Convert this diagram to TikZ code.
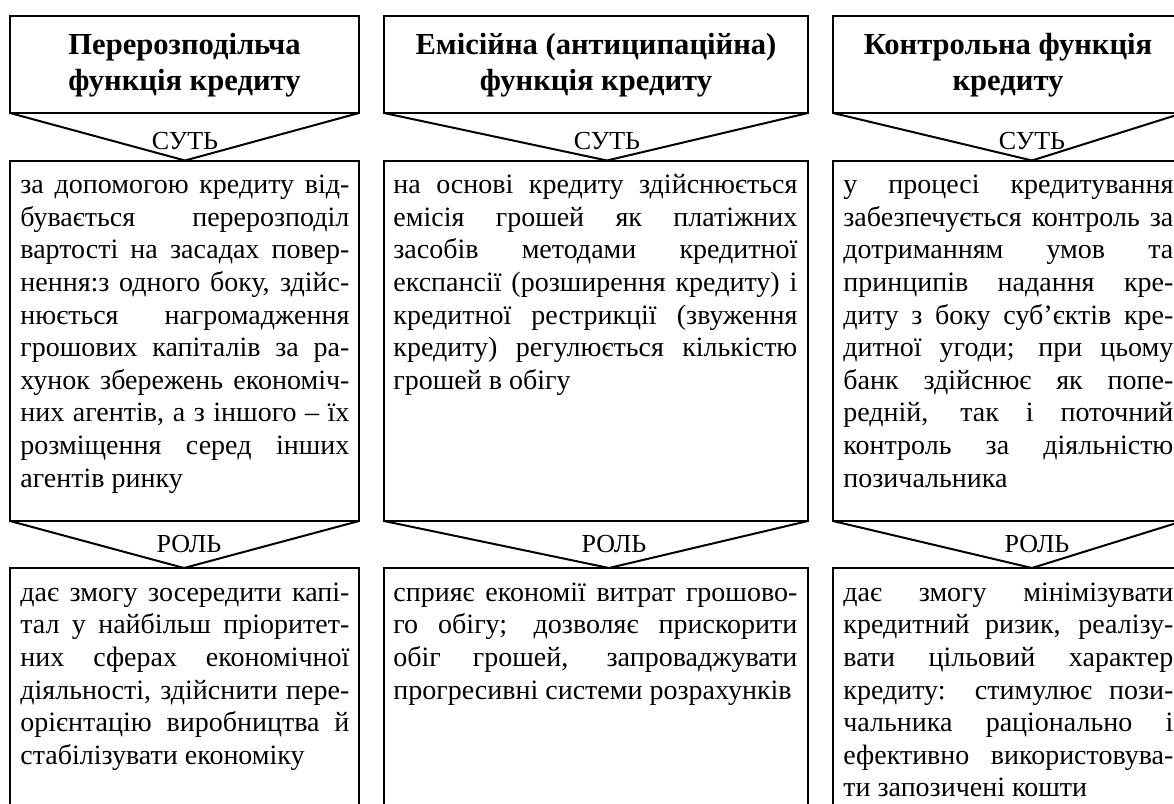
\documentclass[tikz,border=0pt]{standalone}
\usepackage{fontspec}
\setmainfont{Liberation Serif}
\usepackage{tikz}
\usetikzlibrary{positioning,fit,calc}
\tikzset{
  framebox/.style={draw, line width=1pt, inner sep=0pt, outer sep=0pt},
  titletext/.style={align=center, inner sep=0pt,
    font=\fontsize{15.3}{18}\selectfont\bfseries},
  bodytext/.style={anchor=north west, inner sep=0pt, align=justify,
    font=\fontsize{14}{16.3}\selectfont},
  tagtext/.style={anchor=base, inner sep=0pt,
    font=\fontsize{13}{15}\selectfont},
  chev/.style={line width=1pt, line join=miter},
}

\begin{document}
\begin{tikzpicture}[x=0.5pt, y=-0.5pt]
  \useasboundingbox (0,0) rectangle (1174,804);
  \clip (0,0) rectangle (1174,804);

  % Column 1
  \node[framebox, fit={(10,16) (359,113)}] (t1) {};
  \node[titletext] (t1txt) at ([yshift=-0.5pt]t1.center)
    {Перерозподільча\\функція кредиту};
  \node[framebox, fit={(10,160.5) (359,521)}] (s1) {};
  \node[framebox, fit={(10,568) (359,900)}] (r1) {};
  \node[bodytext, text width=164.5pt] (s1txt)
    at ([xshift=5pt, yshift=-5pt]s1.north west)
    {\strut за допомогою кредиту від-\linebreak
     бувається перерозподіл\linebreak
     вартості на засадах повер-\linebreak
     нення:з одного боку, здійс-\linebreak
     нюється нагромадження\linebreak
     грошових капіталів за ра-\linebreak
     хунок збережень економіч-\linebreak
     них агентів, а з іншого – їх\linebreak
     розміщення серед інших\linebreak
     агентів ринку};
  \node[bodytext, text width=164.5pt] (r1txt)
    at ([xshift=5pt, yshift=-5pt]r1.north west)
    {\strut дає змогу зосередити капі-\linebreak
     тал у найбільш пріоритет-\linebreak
     них сферах економічної\linebreak
     діяльності, здійснити пере-\linebreak
     орієнтацію виробництва й\linebreak
     стабілізувати економіку};

  % Column 2
  \node[framebox, fit={(384,16) (808,113)}] (t2) {};
  \node[titletext] (t2txt) at ([yshift=-0.5pt]t2.center)
    {Емісійна (антиципаційна)\\функція кредиту};
  \node[framebox, fit={(384,160.5) (808,521)}] (s2) {};
  \node[framebox, fit={(384,568) (808,900)}] (r2) {};
  \node[bodytext, text width=202pt] (s2txt)
    at ([xshift=4.5pt, yshift=-5pt]s2.north west)
    {\strut на основі кредиту здійснюється\linebreak
     емісія грошей як платіжних\linebreak
     засобів методами кредитної\linebreak
     експансії (розширення кредиту) і\linebreak
     кредитної рестрикції (звуження\linebreak
     кредиту) регулюється кількістю\linebreak
     грошей в обігу};
  \node[bodytext, text width=202pt] (r2txt)
    at ([xshift=4.5pt, yshift=-5pt]r2.north west)
    {\strut сприяє економії витрат грошово-\linebreak
     го обігу; дозволяє прискорити\linebreak
     обіг грошей, запроваджувати\linebreak
     прогресивні системи розрахунків};

  % Column 3
  \node[framebox, fit={(833,16) (1183,113)}] (t3) {};
  \node[titletext] (t3txt) at ([yshift=-0.5pt]t3.center)
    {Контрольна функція\\кредиту};
  \node[framebox, fit={(833,160.5) (1183,521)}] (s3) {};
  \node[framebox, fit={(833,568) (1183,900)}] (r3) {};
  \node[bodytext, text width=165pt] (s3txt)
    at ([xshift=5pt, yshift=-5pt]s3.north west)
    {\strut у процесі кредитування\linebreak
     забезпечується контроль за\linebreak
     дотриманням умов та\linebreak
     принципів надання кре-\linebreak
     диту з боку суб’єктів кре-\linebreak
     дитної угоди; при цьому\linebreak
     банк здійснює як попе-\linebreak
     редній, так і поточний\linebreak
     контроль за діяльністю\linebreak
     позичальника};
  \node[bodytext, text width=165pt] (r3txt)
    at ([xshift=5pt, yshift=-5pt]r3.north west)
    {\strut дає змогу мінімізувати\linebreak
     кредитний ризик, реалізу-\linebreak
     вати цільовий характер\linebreak
     кредиту: стимулює пози-\linebreak
     чальника раціонально і\linebreak
     ефективно використовува-\linebreak
     ти запозичені кошти};

  % Apex points
  \coordinate (a1) at (185,160.5);
  \coordinate (a2) at (607,160.5);
  \coordinate (a3) at (1032,160.5);
  \coordinate (b1) at (184,568);
  \coordinate (b2) at (609,568);
  \coordinate (b3) at (1032,568);

  % Chevrons
  \draw[chev] (t1.south west) -- (a1) -- (t1.south east);
  \draw[chev] (t2.south west) -- (a2) -- (t2.south east);
  \draw[chev] (t3.south west) -- (a3) -- (t3.south east);
  \draw[chev] (s1.south west) -- (b1) -- (s1.south east);
  \draw[chev] (s2.south west) -- (b2) -- (s2.south east);
  \draw[chev] (s3.south west) -- (b3) -- (s3.south east);

  % Labels
  \node[tagtext] (k1) at ([yshift=5.75pt]a1) {СУТЬ};
  \node[tagtext] (k2) at ([yshift=5.75pt]a2) {СУТЬ};
  \node[tagtext] (k3) at ([yshift=5.75pt]a3) {СУТЬ};
  \node[tagtext] (m1) at ([xshift=2.5pt, yshift=8pt]b1) {РОЛЬ};
  \node[tagtext] (m2) at ([xshift=2.5pt, yshift=8pt]b2) {РОЛЬ};
  \node[tagtext] (m3) at ([xshift=2.5pt, yshift=8pt]b3) {РОЛЬ};
\end{tikzpicture}
\end{document}
